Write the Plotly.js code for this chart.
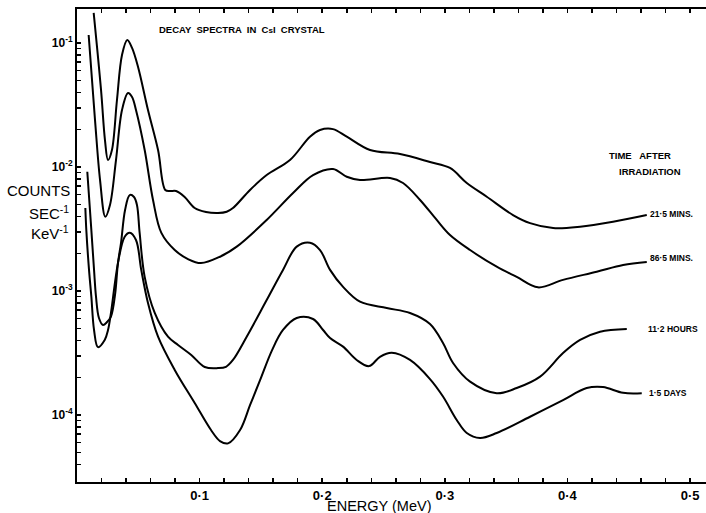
<!DOCTYPE html>
<html>
<head>
<meta charset="utf-8">
<script src="https://cdn.plot.ly/plotly-3.0.1.min.js"></script>
<style>html,body{margin:0;padding:0;background:#fff;}#chart{width:706px;height:513px;}</style>
</head>
<body>
<div id="chart"></div>
<script>
// Energy (MeV) and counts per sec per keV for each decay time
const energy215 = [0.0136,0.0196,0.0228,0.0253,0.0285,0.0326,0.0367,0.0410,0.0449,0.0498,0.0579,0.0661,0.0720,0.0759,0.0808,0.0878,0.0960,0.1052,0.1150,0.1221,0.1272,0.1411,0.1547,0.1737,0.1900,0.1982,0.2088,0.2200,0.2390,0.2635,0.2879,0.3042,0.3179,0.3342,0.3556,0.3695,0.3883,0.4103,0.4372,0.4647];
const counts215 = [0.175,0.0418,0.0165,0.01138,0.0137,0.0347,0.080,0.1057,0.0912,0.064,0.0288,0.0137,0.00653,0.0064,0.0064,0.00573,0.00467,0.00434,0.00426,0.00436,0.00467,0.00653,0.00861,0.01138,0.01755,0.01988,0.0202,0.01755,0.0137,0.01273,0.01097,0.00982,0.00743,0.00576,0.0041,0.00353,0.00322,0.0033,0.00362,0.0041];

const energy865 = [0.0095,0.0147,0.0188,0.0231,0.0269,0.0318,0.0367,0.0416,0.0449,0.0481,0.0552,0.0620,0.0688,0.0797,0.0905,0.1011,0.1166,0.1303,0.1547,0.1762,0.1925,0.2088,0.2200,0.2308,0.2553,0.2659,0.2798,0.2934,0.3042,0.3206,0.3423,0.3586,0.3760,0.3964,0.4239,0.4454,0.4647];
const counts865 = [0.116,0.0239,0.00785,0.00397,0.00494,0.01138,0.0288,0.0395,0.0367,0.0288,0.0137,0.00542,0.00294,0.00214,0.00181,0.00168,0.00189,0.00228,0.00374,0.00617,0.00861,0.00964,0.00835,0.00785,0.00815,0.00743,0.00542,0.00374,0.00283,0.00214,0.00157,0.0013,0.00107,0.00123,0.00143,0.00162,0.00171];

const energy112h = [0.0084,0.0117,0.0139,0.0155,0.0179,0.0212,0.0245,0.0277,0.0310,0.0334,0.0359,0.0392,0.0430,0.0465,0.0489,0.0511,0.0552,0.0634,0.0742,0.0824,0.0932,0.1042,0.1150,0.1215,0.1272,0.1384,0.1547,0.1680,0.1792,0.1900,0.1982,0.2064,0.2170,0.2308,0.2526,0.2716,0.2879,0.2985,0.3067,0.3206,0.3423,0.3586,0.3777,0.3964,0.4103,0.4266,0.4484];
const counts112h = [0.00916,0.0031,0.00148,0.0009,0.000606,0.000532,0.000562,0.000621,0.000929,0.00168,0.00244,0.0045,0.00594,0.00573,0.00494,0.00294,0.0013,0.000665,0.000428,0.000367,0.000305,0.000244,0.000239,0.000245,0.000278,0.000428,0.000846,0.00148,0.00228,0.00245,0.00214,0.00148,0.00108,0.00082,0.000729,0.000665,0.000542,0.000381,0.000263,0.000186,0.000150,0.000165,0.000204,0.000316,0.000403,0.00047,0.000494];

const energy15d = [0.0068,0.0076,0.0098,0.0117,0.0139,0.0171,0.0226,0.0253,0.0277,0.0334,0.0389,0.0430,0.0481,0.0524,0.0579,0.0661,0.0797,0.0960,0.1093,0.1166,0.1232,0.1330,0.1411,0.1493,0.1591,0.1680,0.1792,0.1925,0.2007,0.2064,0.2170,0.2281,0.2382,0.2471,0.2567,0.2716,0.2879,0.2985,0.3097,0.3179,0.3287,0.3423,0.3695,0.3964,0.4157,0.4290,0.4454,0.4606];
const counts15d = [0.00467,0.0031,0.00148,0.0009,0.000485,0.000353,0.000403,0.000485,0.000665,0.00168,0.00274,0.00295,0.00258,0.00148,0.0008,0.000428,0.000231,0.000125,0.0000757,0.0000617,0.0000591,0.0000757,0.00012,0.000191,0.000334,0.000485,0.000606,0.000595,0.000485,0.000418,0.000356,0.000278,0.000248,0.000295,0.000318,0.000278,0.000195,0.000141,0.0000912,0.0000716,0.0000653,0.0000716,0.0000969,0.000132,0.000165,0.000168,0.000151,0.00015];

const seriesNames = ["21·5 MINS.", "86·5 MINS.", "11·2 HOURS", "1·5 DAYS"];

const xTickVals = [0.02,0.04,0.06,0.08,0.1,0.12,0.14,0.16,0.18,0.2,0.22,0.24,0.26,0.28,0.3,0.32,0.34,0.36,0.38,0.4,0.42,0.44,0.46,0.48,0.5];
const xTickText = ["","","","","0·1","","","","","0·2","","","","","0·3","","","","","0·4","","","","","0·5"];

const yTickVals = [0.1,0.09,0.08,0.07,0.06,0.05,0.04,0.03,0.02,
  0.01,0.009,0.008,0.007,0.006,0.005,0.004,0.003,0.002,
  0.001,0.0009,0.0008,0.0007,0.0006,0.0005,0.0004,0.0003,0.0002,
  0.0001,0.00009,0.00008,0.00007,0.00006,0.00005,0.00004];
const yTickText = ["10<sup>-1</sup>","","","","","","","","",
  "10<sup>-2</sup>","","","","","","","","",
  "10<sup>-3</sup>","","","","","","","","",
  "10<sup>-4</sup>","","","","","",""];

const lineStyle = {color:"#000", width:2, shape:"spline", smoothing:1.0};
const traces = [
  {x: energy215, y: counts215, name: seriesNames[0]},
  {x: energy865, y: counts865, name: seriesNames[1]},
  {x: energy112h, y: counts112h, name: seriesNames[2]},
  {x: energy15d, y: counts15d, name: seriesNames[3]}
].map(t => Object.assign(t, {type:"scatter", mode:"lines", line: lineStyle, hoverinfo:"x+y+name"}));

const W = 706, H = 513, L = 77, R = 0, T = 9, B = 31;
const px = v => (v - L) / (W - L - R);
const py = v => (H - B - v) / (H - T - B);
const fontFam = "Liberation Sans, Arial, sans-serif";
const ann = (text, x, y, size, anchor, bold) => ({
  text: bold ? "<b>" + text + "</b>" : text,
  x: px(x), y: py(y), xref: "paper", yref: "paper",
  xanchor: anchor || "center", yanchor: "middle", showarrow: false,
  font: {family: fontFam, size: size, color: "#000"}
});

const layout = {
  width: W, height: H,
  margin: {l: L, r: R, t: T, b: B, pad: 0},
  paper_bgcolor: "#fff", plot_bgcolor: "#fff",
  showlegend: false,
  xaxis: {
    type: "linear", range: [0, 0.513],
    showgrid: false, zeroline: false,
    showline: true, linecolor: "#000", linewidth: 2, mirror: "ticks",
    ticks: "inside", ticklen: 4, tickwidth: 1.5, tickcolor: "#000",
    tickmode: "array", tickvals: xTickVals, ticktext: xTickText,
    tickfont: {family: fontFam, size: 13, color: "#000", weight: "bold"}
  },
  yaxis: {
    type: "log", range: [-4.540, -0.726],
    showgrid: false, zeroline: false,
    showline: true, linecolor: "#000", linewidth: 2,
    ticks: "inside", ticklen: 4, tickwidth: 1.5, tickcolor: "#000",
    tickmode: "array", tickvals: yTickVals, ticktext: yTickText,
    tickfont: {family: fontFam, size: 12, color: "#000", weight: "bold"}
  },
  annotations: [
    ann("DECAY  SPECTRA  IN  C<span style='font-size:8px'>s</span>I  CRYSTAL", 241.5, 30, 9.5, "center", true),
    ann("TIME   AFTER", 639.5, 155, 9.5, "center", true),
    ann("IRRADIATION", 650, 171, 9.5, "center", true),
    ann(seriesNames[0], 648, 214, 8.5, "left", true),
    ann(seriesNames[1], 648, 258, 8.5, "left", true),
    ann(seriesNames[2], 646, 329, 8.5, "left", true),
    ann(seriesNames[3], 647, 393, 8.5, "left", true),
    ann("COUNTS", 38.5, 190, 15, "center", false),
    ann("SEC<sup>-1</sup>", 49, 212, 15, "center", false),
    ann("KeV<sup>-1</sup>", 50, 232, 15, "center", false),
    ann("ENERGY (MeV)", 378.5, 506, 14.5, "center", false)
  ]
};

Plotly.newPlot("chart", traces, layout, {displayModeBar: false, staticPlot: true});
</script>
</body>
</html>
